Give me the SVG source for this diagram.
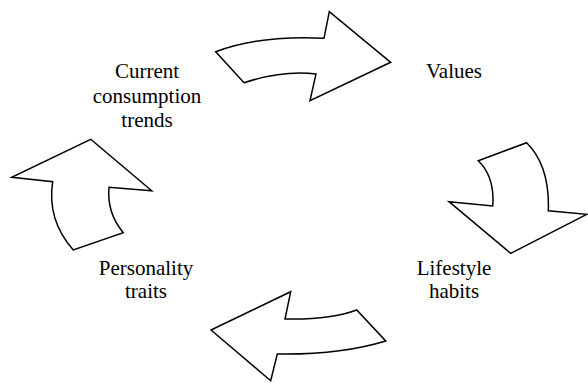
<svg xmlns="http://www.w3.org/2000/svg" width="588" height="383" viewBox="0 0 588 383">
<style>
.arrow{fill:#fff;stroke:#000;stroke-width:1.5;stroke-linejoin:miter}
.lbl{font-family:"Times New Roman","Liberation Serif",Times,serif;font-size:21px;fill:#000;text-anchor:middle}
</style>
<rect width="588" height="383" fill="#fff"/>
<g id="connectors">
<path id="arrow-top" class="arrow" d="M215.7,51.7 Q260,35 324,38.3 L329.3,11.7 L390.7,62.3 L310,100.7 L316,74 Q283,70 244,82.7 Z"/>
<path id="arrow-right" class="arrow" d="M478.3,160.7 L526.7,142.7 Q550,166 548.3,210.7 L586.7,214.3 L510.7,253.3 L449,201.7 L492.7,206 Q495,177 478.3,160.7 Z"/>
<path id="arrow-bottom" class="arrow" d="M211,330 L290.7,291.7 L285,319 Q330,320 356.7,310 L385.7,341 Q340,355 277.3,354 L270.7,380.7 Z"/>
<path id="arrow-left" class="arrow" d="M90.7,139.3 L151.7,190.7 L109,187.3 Q106.7,213 123.3,232.7 L73.3,250 Q46.7,220 52.7,181.7 L11.7,177.3 Z"/>
</g>
<g id="node-current">
<text class="lbl" x="147" y="78.3">Current</text>
<text class="lbl" x="147" y="102.7">consumption</text>
<text class="lbl" x="147" y="126.7">trends</text>
</g>
<g id="node-values">
<text class="lbl" x="454" y="78.3">Values</text>
</g>
<g id="node-lifestyle">
<text class="lbl" x="454" y="275">Lifestyle</text>
<text class="lbl" x="454" y="298.3">habits</text>
</g>
<g id="node-personality">
<text class="lbl" x="146" y="275">Personality</text>
<text class="lbl" x="146" y="298">traits</text>
</g>
</svg>
